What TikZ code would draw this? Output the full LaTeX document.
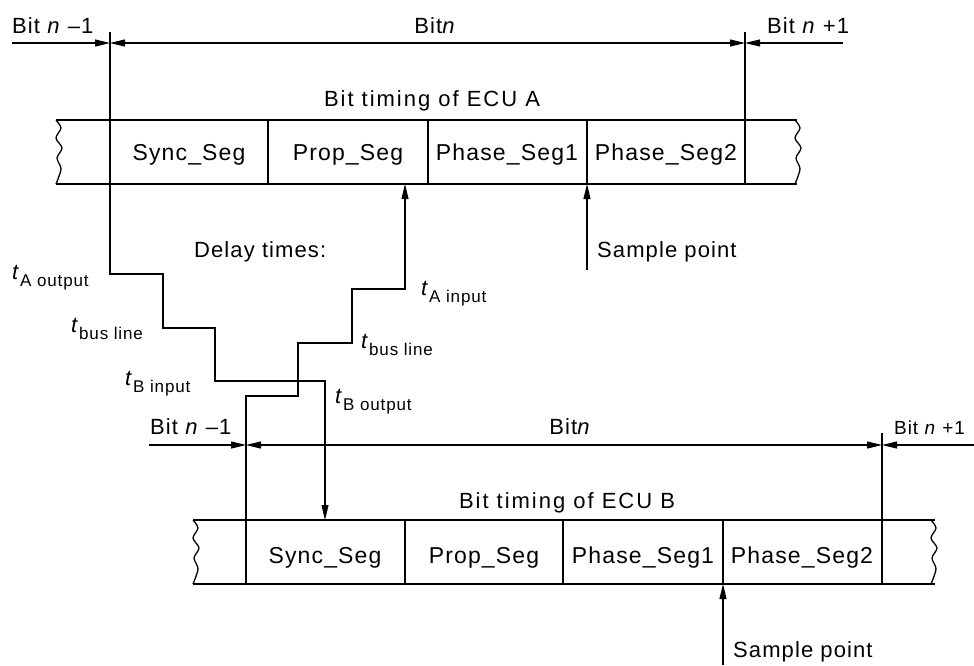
\documentclass[tikz,border=0pt]{standalone}
\usepackage{fontspec}
\setmainfont{Liberation Sans}[LetterSpace=5]
\usetikzlibrary{arrows.meta}
\newcommand{\tsub}[1]{\textit{t}\raisebox{-7pt}{\fontsize{17}{17}\selectfont #1}}
\begin{document}
\begin{tikzpicture}[x=1pt,y=-1pt,
  thinl/.style={line width=1.1pt},
  boxl/.style={line width=2.4pt},
  wavyl/.style={line width=1.3pt},
  tipE/.style={-{Triangle[length=15pt,width=7pt]}},
  tipB/.style={{Triangle[length=15pt,width=7pt]}-{Triangle[length=15pt,width=7pt]}},
  txt/.style={inner sep=0pt, anchor=base west, font=\fontsize{22}{26}\selectfont},
  ctxt/.style={inner sep=0pt, anchor=base, font=\fontsize{22}{26}\selectfont},
  seglbl/.style={inner sep=0pt, anchor=base, font=\fontsize{23}{26}\selectfont},
  ttl/.style={inner sep=0pt, anchor=base, font=\fontsize{22}{26}\selectfont\addfontfeatures{LetterSpace=9}},
  wave/.pic={\draw[wavyl] plot[smooth] coordinates {(0,0) (5,8) (0,18) (6,28) (1,38) (5,49) (0,64)};}
]
\useasboundingbox (0,0) rectangle (974,665);

% ---------------- ECU A ----------------
\coordinate (aTL) at (56,120);  \coordinate (aTR) at (797,120);
\coordinate (aBL) at (56,184);  \coordinate (aBR) at (797,184);
\draw[boxl] (aTL) -- (aTR);
\draw[boxl] (aBL) -- (aBR);
\foreach \x in {110,268,428,587,745} \draw[boxl] (\x,120) -- (\x,184);
\pic at (aTL) {wave};
\pic at (795,120) {wave};

\node[seglbl] (aSync)  at (189,160) {Sync\_Seg};
\node[seglbl] (aProp)  at (348,160) {Prop\_Seg};
\node[seglbl] (aPh1)   at (507,160) {Phase\_Seg1};
\node[seglbl] (aPh2)   at (666,160) {Phase\_Seg2};
\node[ttl]    (aTitle) at (432,106) {Bit timing of ECU A};

% bit boundaries A
\coordinate (aL0) at (12,43);  \coordinate (aL) at (110,43);
\coordinate (aR) at (745,43);  \coordinate (aR0) at (843,43);
\draw[thinl] (745,32) -- (745,184);
\draw[thinl,tipE] (aL0) -- (aL);
\draw[thinl,tipB] (aL) -- (aR);
\draw[thinl,tipE] (aR0) -- (aR);
\node[txt]  (aBm1) at (12,33)  {Bit \textit{n} –1};
\node[ctxt] (aBn)  at (435,33) {Bit\textit{n}};
\node[txt]  (aBp1) at (767,33) {Bit \textit{n} +1};

% sample point A
\coordinate (aSP0) at (587,270); \coordinate (aSP) at (587,184);
\draw[thinl,tipE] (aSP0) -- (aSP);
\node[txt] (aSPt) at (597,257) {Sample point};

% ---------------- ECU B ----------------
\coordinate (bTL) at (193,520);  \coordinate (bTR) at (935,520);
\coordinate (bBL) at (193,584);  \coordinate (bBR) at (935,584);
\draw[boxl] (bTL) -- (bTR);
\draw[boxl] (bBL) -- (bBR);
\foreach \x in {246,405,563,723,882} \draw[boxl] (\x,520) -- (\x,584);
\pic at (bTL) {wave};
\pic at (931,520) {wave};

\node[seglbl] (bSync)  at (325,563) {Sync\_Seg};
\node[seglbl] (bProp)  at (484,563) {Prop\_Seg};
\node[seglbl] (bPh1)   at (643,563) {Phase\_Seg1};
\node[seglbl] (bPh2)   at (802,563) {Phase\_Seg2};
\node[ttl]    (bTitle) at (567,508) {Bit timing of ECU B};

% bit boundaries B
\coordinate (bL0) at (149,445);  \coordinate (bL) at (246,445);
\coordinate (bR) at (882,445);   \coordinate (bR0) at (974,445);
\draw[thinl] (882,433) -- (882,584);
\draw[thinl,tipE] (bL0) -- (bL);
\draw[thinl,tipB] (bL) -- (bR);
\draw[thinl,tipE] (bR0) -- (bR);
\node[txt]  (bBm1) at (150,434) {Bit \textit{n} –1};
\node[ctxt] (bBn)  at (570,434) {Bit\textit{n}};
\node[txt, font=\fontsize{19}{22}\selectfont] (bBp1) at (894,434) {Bit \textit{n} +1};

% sample point B
\coordinate (bSP0) at (723,665); \coordinate (bSP) at (723,584);
\draw[thinl,tipE] (bSP0) -- (bSP);
\node[txt] (bSPt) at (733,657) {Sample point};

% ---------------- delay paths ----------------
\coordinate (aStart) at (110,32);
\coordinate (bIn) at (325,520);
\draw[thinl,tipE] (aStart) -- (110,274) -- (163,274) -- (163,328) -- (215,328)
   -- (215,381) -- (325,381) -- (bIn);
\coordinate (bStart) at (246,584);
\coordinate (aIn) at (405,184);
\draw[thinl,tipE] (bStart) -- (246,396) -- (298,396) -- (298,343) -- (352,343)
   -- (352,289) -- (405,289) -- (aIn);

\node[txt] (delay) at (194,257) {Delay times:};
\node[txt] (tAo) at (12,279)  {\tsub{A output}};
\node[txt] (tbl) at (71,332)  {\tsub{bus line}};
\node[txt] (tBi) at (125,385) {\tsub{B input}};
\node[txt] (tAi) at (421,295) {\tsub{A input}};
\node[txt] (tbr) at (361,348) {\tsub{bus line}};
\node[txt] (tBo) at (335,403) {\tsub{B output}};
\end{tikzpicture}
\end{document}
